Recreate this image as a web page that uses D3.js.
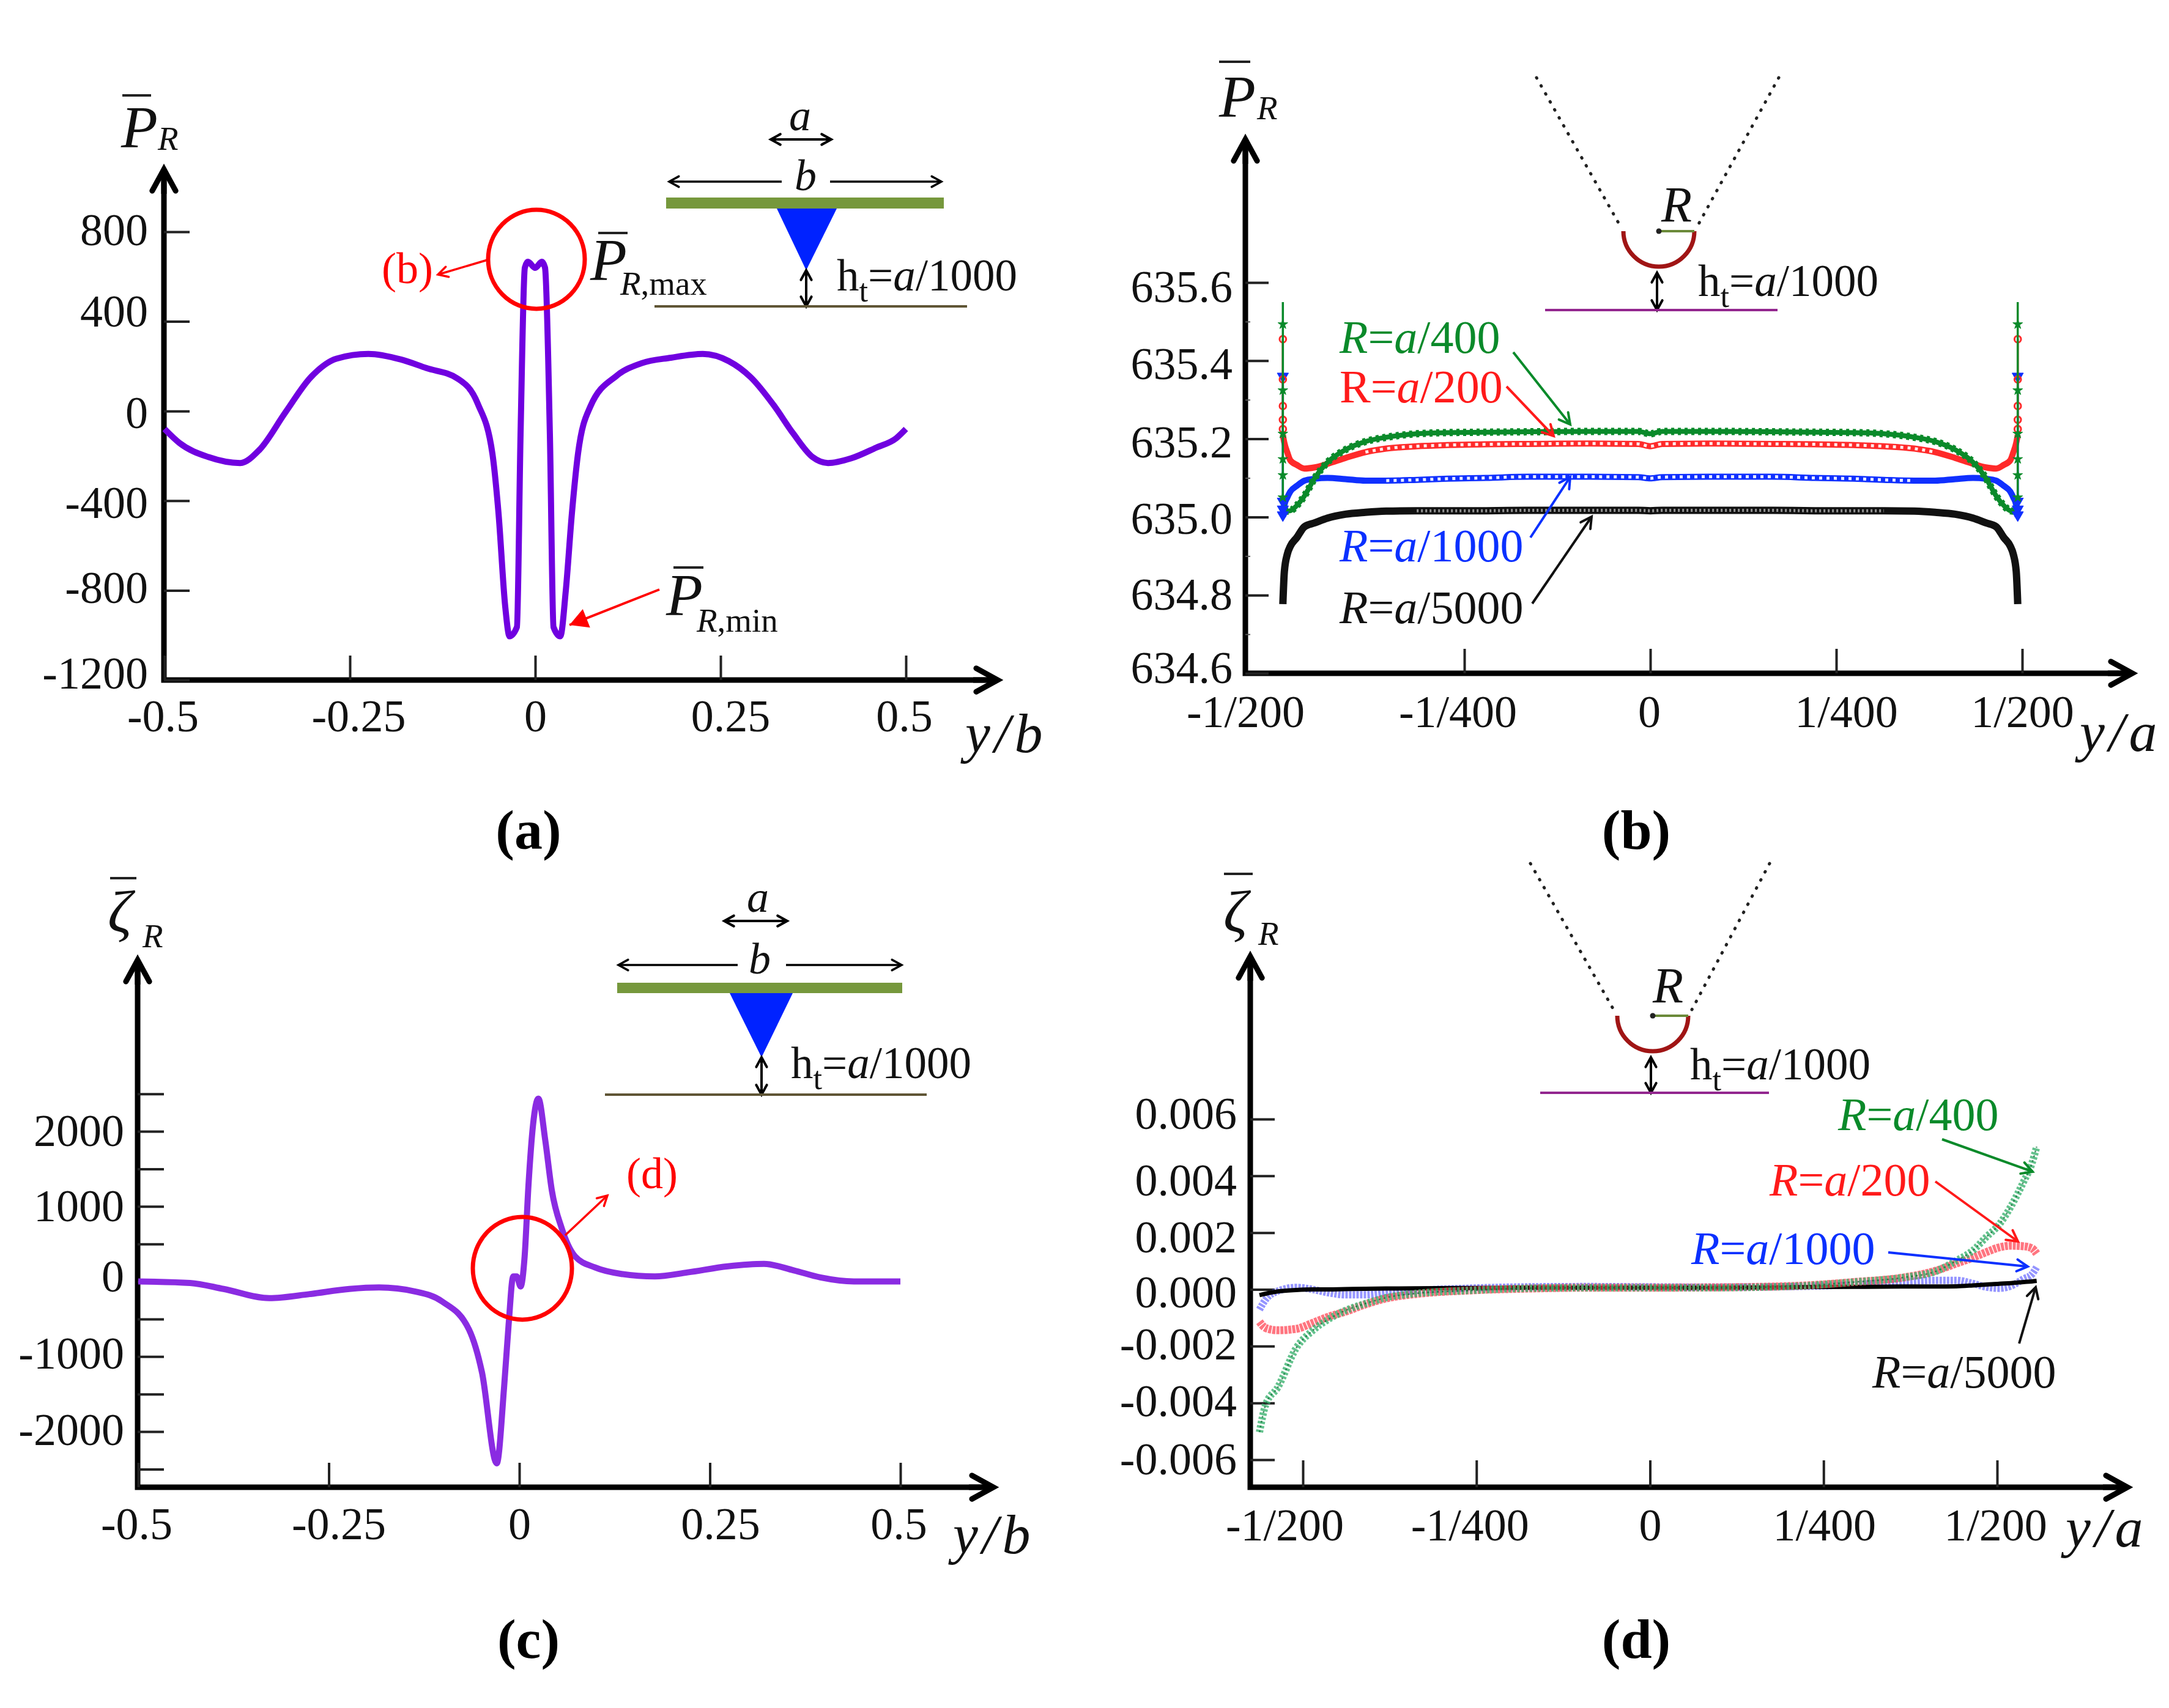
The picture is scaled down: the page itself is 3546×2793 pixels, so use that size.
<!DOCTYPE html>
<html>
<head>
<meta charset="utf-8">
<script src="https://cdn.jsdelivr.net/npm/d3@7"></script>
<style>
  html, body { margin: 0; background: #fff; }
  svg text { font-family: "Liberation Serif", serif; }
</style>
</head>
<body>
<svg id="chart" width="3546" height="2793"></svg>
<script>
// (a) pressure across the wall, whole span
const yOverBA = [-0.5, -0.48, -0.441, -0.398, -0.372, -0.337, -0.303, -0.268, -0.225, -0.181, -0.147, -0.1047, -0.0775, -0.0577, -0.0495, -0.0404, -0.0346, -0.0247, -0.0198, -0.014, -0.0099, 0, 0.009, 0.0132, 0.0198, 0.0247, 0.0338, 0.0412, 0.0495, 0.0577, 0.0742, 0.11, 0.143, 0.183, 0.226, 0.261, 0.291, 0.322, 0.348, 0.374, 0.395, 0.426, 0.46, 0.487, 0.5];
const pressureA = [-80, -142, -205, -232, -173, -6, 150, 234, 255, 230, 192, 145, 33, -191, -456, -874, -1005, -964, -107, 640, 666, 639, 666, 640, -107, -964, -1005, -803, -456, -191, 19, 158, 213, 238, 255, 223, 150, 25, -100, -205, -232, -211, -163, -121, -80];

// (c) vorticity, whole span
const yOverBC = [-0.5, -0.432, -0.388, -0.328, -0.275, -0.223, -0.184, -0.136, -0.101, -0.066, -0.049, -0.0296, -0.02, -0.014, -0.008, -0.0035, 0.0017, 0.007, 0.012, 0.018, 0.025, 0.034, 0.0427, 0.0557, 0.073, 0.099, 0.134, 0.178, 0.221, 0.2735, 0.321, 0.36, 0.395, 0.439, 0.5];
const vorticityC = [0, -20, -100, -222, -168, -100, -80, -135, -269, -640, -1211, -2423, -1413, -572, 67, 67, -67, 336, 1279, 2086, 2436, 1884, 1211, 707, 336, 188, 100, 67, 121, 202, 235, 148, 54, 0, 0];

// (b) pressure near the tip, one array per radius
const yOverAB = [-0.00494, -0.00492, -0.00488, -0.00484, -0.00475, -0.00465, -0.00451, -0.00434, -0.0041, -0.00383, -0.00355, -0.00314, -0.00273, -0.00221, -0.00164, -0.00082, -0.00016, 0, 0.00016, 0.00082, 0.00164, 0.00221, 0.00273, 0.00314, 0.00355, 0.00383, 0.0041, 0.00434, 0.00451, 0.00465, 0.00475, 0.00484, 0.00488, 0.00492, 0.00494];
const pressureR400 = [635.03, 635.016, 635.015, 635.016, 635.03, 635.054, 635.1, 635.14, 635.172, 635.193, 635.204, 635.213, 635.216, 635.217, 635.218, 635.219, 635.219, 635.213, 635.219, 635.219, 635.218, 635.217, 635.216, 635.213, 635.204, 635.193, 635.172, 635.14, 635.1, 635.054, 635.03, 635.016, 635.015, 635.016, 635.03];
const pressureR200 = [635.21, 635.19, 635.165, 635.145, 635.133, 635.124, 635.127, 635.136, 635.151, 635.166, 635.175, 635.181, 635.184, 635.186, 635.187, 635.188, 635.187, 635.181, 635.187, 635.188, 635.187, 635.186, 635.184, 635.181, 635.175, 635.166, 635.151, 635.136, 635.127, 635.124, 635.133, 635.145, 635.165, 635.19, 635.21];
const pressureR1000 = [635.0, 635.03, 635.05, 635.065, 635.08, 635.093, 635.098, 635.1, 635.097, 635.093, 635.093, 635.095, 635.098, 635.1, 635.103, 635.103, 635.102, 635.099, 635.102, 635.103, 635.103, 635.1, 635.098, 635.095, 635.093, 635.093, 635.097, 635.1, 635.098, 635.093, 635.08, 635.065, 635.05, 635.03, 635.0];
const pressureR5000 = [634.777, 634.86, 634.905, 634.925, 634.948, 634.975, 634.985, 634.997, 635.007, 635.012, 635.015, 635.016, 635.016, 635.016, 635.017, 635.017, 635.017, 635.016, 635.017, 635.017, 635.017, 635.016, 635.016, 635.016, 635.015, 635.012, 635.007, 634.997, 634.985, 634.975, 634.948, 634.925, 634.905, 634.86, 634.777];

// (b) the isolated points up the spike at each end
const spikeX = [-0.00494, 0.00494];
const spikeR400 = [635.55, 635.493, 635.324, 635.213, 635.148, 635.107, 635.05];
const spikeR200 = [635.455, 635.352, 635.284, 635.249, 635.225];
const spikeR1000 = [635.36, 635.04, 635.02, 635.005];

// (d) vorticity near the tip
const yOverAD = [-0.005625, -0.005537, -0.005361, -0.005097, -0.004859, -0.00463, -0.004393, -0.004102, -0.003803, -0.003363, -0.002632, -0.001752, -0.000871, 0, 0.000889, 0.00206, 0.00294, 0.00368, 0.00412, 0.00441, 0.00465, 0.00485, 0.00503, 0.0052, 0.00538, 0.0055, 0.00557];
const vorticityR400 = [-0.00503, -0.00407, -0.00345, -0.00207, -0.00145, -0.00105, -0.00075, -0.0005, -0.00029, -0.00014, -0.00004, 0.00004, 0.00006, 0.00006, 0.00006, 0.00011, 0.00026, 0.00043, 0.00064, 0.00101, 0.00137, 0.00186, 0.00229, 0.00293, 0.00379, 0.00443, 0.00503];
const vorticityR200 = [-0.00114, -0.00136, -0.00144, -0.00139, -0.00118, -0.00096, -0.00079, -0.00053, -0.00032, -0.00016, -0.00004, 0.00003, 0.00006, 0.00006, 0.00007, 0.00012, 0.00026, 0.00043, 0.00066, 0.00091, 0.00112, 0.00132, 0.00148, 0.00154, 0.00152, 0.00145, 0.00126];
const vorticityR1000 = [-0.00071, -0.00036, -0.00006, 0.00007, 0, -0.00012, -0.00019, -0.00019, -0.00013, -0.00004, 0.00004, 0.00009, 0.0001, 0.00009, 0.00008, 0.0001, 0.00017, 0.00028, 0.00032, 0.00032, 0.00021, 0.00008, 0.00004, 0.00012, 0.00037, 0.00053, 0.00079];
const vorticityR5000 = [-0.0002, -0.00015, -0.00007, -0.00002, 0, 0, 0.00001, 0.00002, 0.00003, 0.00004, 0.00005, 0.00006, 0.00006, 0.00006, 0.00006, 0.00008, 0.00009, 0.0001, 0.0001, 0.00011, 0.00014, 0.00017, 0.0002, 0.00022, 0.00026, 0.00028, 0.0003];

// tick values and labels
const ticksXWide = [-0.5, -0.25, 0, 0.25, 0.5];
const labelsXWide = ["-0.5", "-0.25", "0", "0.25", "0.5"];
const ticksXTip = [-1 / 200, -1 / 400, 0, 1 / 400, 1 / 200];
const labelsXTip = ["-1/200", "-1/400", "0", "1/400", "1/200"];
const ticksYA = [800, 400, 0, -400, -800, -1200];
const ticksYB = [635.6, 635.4, 635.2, 635.0, 634.8, 634.6];
const minorYB = [635.5, 635.3, 635.1, 634.9, 634.7];
const ticksYC = [2500, 2000, 1500, 1000, 500, 0, -500, -1000, -1500, -2000, -2500];
const labelledYC = [2000, 1000, 0, -1000, -2000];
const ticksYD = [0.006, 0.004, 0.002, 0, -0.002, -0.004, -0.006];

const svg = d3.select("#chart");
const TICK_FONT = 74;
const line = (xs, ys, x, y, curve) => d3.line()
    .x((d) => x(xs[d]))
    .y((d) => y(ys[d]))
    .curve(curve || d3.curveMonotoneX)(d3.range(xs.length));

// text with italic / subscript runs: parts are [string, "i" | "s" | "si" | ""]
function rich(g, px, py, size, color, parts, anchor) {
    const t = g.append("text").attr("x", px).attr("y", py)
        .attr("font-size", size).attr("fill", color)
        .attr("text-anchor", anchor || "start");
    let shifted = 0;
    parts.forEach(([s, style]) => {
        const st = style || "";
        const sub = st.includes("s");
        const drop = sub ? size * 0.24 : 0;
        t.append("tspan").text(s)
            .attr("dy", drop - shifted)
            .attr("font-size", sub ? size * 0.72 : size)
            .attr("font-style", st.includes("i") ? "italic" : "normal");
        shifted = drop;
    });
    return t;
}

function arrow(g, x1, y1, x2, y2, o) {
    o = Object.assign({ color: "#000", width: 4, head: 20, filled: false, both: false }, o);
    const ang = Math.atan2(y2 - y1, x2 - x1);
    const headAt = (hx, hy, a) => {
        const p1 = [hx - o.head * Math.cos(a - 0.5), hy - o.head * Math.sin(a - 0.5)];
        const p2 = [hx - o.head * Math.cos(a + 0.5), hy - o.head * Math.sin(a + 0.5)];
        if (o.filled) {
            g.append("path").attr("d", `M${p1}L${hx},${hy}L${p2}Z`).attr("fill", o.color);
        } else {
            g.append("path").attr("d", `M${p1}L${hx},${hy}L${p2}`)
                .attr("fill", "none").attr("stroke", o.color)
                .attr("stroke-width", o.width).attr("stroke-linecap", "round");
        }
    };
    g.append("line").attr("x1", x1).attr("y1", y1).attr("x2", x2).attr("y2", y2)
        .attr("stroke", o.color).attr("stroke-width", o.width);
    headAt(x2, y2, ang);
    if (o.both) headAt(x1, y1, ang + Math.PI);
}

// the thick arrowed axes plus ticks from d3.axis
function axes(g, p) {
    g.append("path")
        .attr("d", `M${p.x0},${p.top}V${p.y0}H${p.right}`)
        .attr("fill", "none").attr("stroke", "#000").attr("stroke-width", 9);
    arrow(g, p.x0, p.top + 40, p.x0, p.top, { width: 9, head: 40 });
    arrow(g, p.right - 40, p.y0, p.right, p.y0, { width: 9, head: 40 });

    const xa = g.append("g").attr("transform", `translate(0,${p.y0})`)
        .call(d3.axisBottom(p.xs).tickValues(p.xTicks).tickSizeInner(-p.xLen).tickSizeOuter(0)
            .tickFormat((d, i) => p.xLabels[i]));
    xa.select(".domain").remove();
    xa.selectAll("line").attr("stroke", "#222").attr("stroke-width", 4)
        .attr("display", (d, i) => (p.hideFirstXTick && i === 0 ? "none" : null));
    xa.selectAll("text").attr("font-size", TICK_FONT).attr("fill", "#111")
        .attr("font-family", "Liberation Serif")
        .attr("dy", 0).attr("y", p.xDrop)
        .attr("x", (d, i) => p.xNudge[i]);

    const ya = g.append("g").attr("transform", `translate(${p.x0},0)`)
        .call(d3.axisLeft(p.ys).tickValues(p.yTicks).tickSizeInner(-p.yLen).tickSizeOuter(0)
            .tickPadding(p.yPad).tickFormat((d, i) => p.yFormat(d, i)));
    ya.select(".domain").remove();
    ya.selectAll("line").attr("stroke", "#222").attr("stroke-width", 4);
    ya.selectAll("text").attr("font-size", TICK_FONT).attr("fill", "#111")
        .attr("font-family", "Liberation Serif")
        .attr("y", (d, i) => p.yNudge[i]);

    if (p.yMinor) {
        const ym = g.append("g").attr("transform", `translate(${p.x0},0)`)
            .call(d3.axisLeft(p.ys).tickValues(p.yMinor).tickSizeInner(-p.yMinorLen).tickSizeOuter(0).tickFormat(""));
        ym.select(".domain").remove();
        ym.selectAll("line").attr("stroke", "#555").attr("stroke-width", 2);
    }
}

// symbol with an overbar: "P" or zeta with an R subscript
function barSymbol(g, s) {
    const t = rich(g, s.x, s.y, s.size, "#111", [[s.glyph, "i"]]);
    t.append("tspan").attr("x", s.subX).attr("y", s.subY).attr("dy", 0)
        .attr("font-size", s.size * 0.56).attr("font-style", "italic").text("R");
    if (s.tail) t.append("tspan").attr("font-size", s.size * 0.56).attr("font-style", "normal").text(s.tail);
    g.append("line").attr("x1", s.barX1).attr("x2", s.barX2).attr("y1", s.barY).attr("y2", s.barY)
        .attr("stroke", "#222").attr("stroke-width", 4);
}

function heightLabel(g, px, py) {
    rich(g, px, py, 73, "#111", [["h", ""], ["t", "s"], ["=", ""], ["a", "i"], ["/1000", ""]]);
}

function axisName(g, px, py, letters) {
    g.append("text").attr("x", px).attr("y", py).attr("font-size", 92)
        .attr("font-style", "italic").attr("letter-spacing", 7).attr("fill", "#111").text(letters);
}

function caption(g, px, py, letter) {
    g.append("text").attr("x", px).attr("y", py).attr("text-anchor", "middle")
        .attr("font-size", 92).attr("font-weight", "bold").attr("fill", "#000").text(`(${letter})`);
}

// plate + triangular tip inset of the wide panels
function plateInset(g, c) {
    rich(g, c.ax, c.ay, 72, "#111", [["a", "i"]], "middle");
    arrow(g, c.dblA[0], c.dblA[2], c.dblA[1], c.dblA[2], { width: 4, head: 18, both: true });
    arrow(g, c.bGap[0], c.bY, c.bSpan[0], c.bY, { width: 3.5, head: 18 });
    arrow(g, c.bGap[1], c.bY, c.bSpan[1], c.bY, { width: 3.5, head: 18 });
    rich(g, c.bx, c.bY + 14, 72, "#111", [["b", "i"]], "middle");
    g.append("rect").attr("x", c.bar[0]).attr("y", c.bar[2]).attr("width", c.bar[1] - c.bar[0])
        .attr("height", c.bar[3] - c.bar[2]).attr("fill", "#76983c");
    g.append("path").attr("d", `M${c.tri[0]},${c.bar[3]}H${c.tri[1]}L${c.tri[2]},${c.tri[3]}Z`).attr("fill", "#0022ff");
    arrow(g, c.tri[2], c.tri[3], c.tri[2], c.ground[2], { width: 4, head: 18, both: true });
    g.append("line").attr("x1", c.ground[0]).attr("x2", c.ground[1]).attr("y1", c.ground[2]).attr("y2", c.ground[2])
        .attr("stroke", "#5f5535").attr("stroke-width", 4);
    heightLabel(g, c.hx, c.hy);
}

// wedge with rounded tip inset of the tip panels
function tipInset(g, c) {
    [[c.dl, c.cx - 64], [c.dr, c.cx + 64]].forEach(([from, toX]) => {
        g.append("line").attr("x1", from).attr("y1", c.dotTop).attr("x2", toX).attr("y2", c.cy - 10)
            .attr("stroke", "#222").attr("stroke-width", 5).attr("stroke-linecap", "round").attr("stroke-dasharray", "1 14");
    });
    const arc = d3.arc()({ innerRadius: 58, outerRadius: 58, startAngle: Math.PI / 2, endAngle: 3 * Math.PI / 2 });
    g.append("path").attr("d", arc).attr("transform", `translate(${c.cx},${c.cy})`)
        .attr("fill", "none").attr("stroke", "#a01515").attr("stroke-width", 7);
    g.append("line").attr("x1", c.cx).attr("x2", c.cx + 58).attr("y1", c.cy).attr("y2", c.cy)
        .attr("stroke", "#6b8a3a").attr("stroke-width", 4);
    g.append("circle").attr("cx", c.cx).attr("cy", c.cy).attr("r", 4.5).attr("fill", "#222");
    rich(g, c.rx, c.ry, 82, "#111", [["R", "i"]], "middle");
    arrow(g, c.cx - 3, c.cy + 68, c.cx - 3, c.gy, { width: 4, head: 18, both: true });
    g.append("line").attr("x1", c.gx[0]).attr("x2", c.gx[1]).attr("y1", c.gy).attr("y2", c.gy)
        .attr("stroke", "#93278f").attr("stroke-width", 4);
    heightLabel(g, c.hx, c.hy);
}

function radiusLabel(g, px, py, color, denom, upright) {
    rich(g, px, py, 76, color, [["R", upright ? "" : "i"], ["=", ""], ["a", "i"], ["/" + denom, ""]]);
}

// ---------- (a)
{
    const g = svg.append("g");
    const xs = d3.scaleLinear().domain([-0.5, 0.5]).range([269, 1481]);
    const ys = d3.scaleLinear().domain([-1200, 800]).range([1112, 379]);
    axes(g, {
        xs, ys, x0: 268, y0: 1112, top: 277, right: 1631, xTicks: ticksXWide, xLabels: labelsXWide,
        xLen: 40, xDrop: 84, xNudge: [-3, 14, 0, 16, -3], yTicks: ticksYA, yLen: 42, yPad: 26,
        yFormat: (d) => d, yNudge: [-2, -16, 4, 4, -4, -10],
    });
    g.append("path").attr("d", line(yOverBA, pressureA, xs, ys))
        .attr("fill", "none").attr("stroke", "#7000e0").attr("stroke-width", 10).attr("stroke-linejoin", "round");
    g.append("ellipse").attr("cx", 877).attr("cy", 424).attr("rx", 79).attr("ry", 81)
        .attr("fill", "none").attr("stroke", "#ff0000").attr("stroke-width", 7);
    rich(g, 624, 463, 72, "#ff0000", [["(b)", ""]]);
    arrow(g, 797, 425, 716, 449, { color: "#ff0000", width: 3.5, head: 18 });
    barSymbol(g, { glyph: "P", x: 198, y: 241, size: 98, barX1: 200, barX2: 247, barY: 156, subX: 258, subY: 245 });
    barSymbol(g, { glyph: "P", x: 965, y: 458, size: 98, barX1: 978, barX2: 1026, barY: 381, subX: 1014, subY: 482, tail: ",max" });
    barSymbol(g, { glyph: "P", x: 1089, y: 1006, size: 98, barX1: 1101, barX2: 1150, barY: 928, subX: 1139, subY: 1033, tail: ",min" });
    arrow(g, 1078, 964, 931, 1022, { color: "#ff0000", width: 4, head: 34, filled: true });
    plateInset(g, {
        ax: 1308, ay: 213, dblA: [1260, 1359, 228], bx: 1317, bY: 297, bSpan: [1094, 1539], bGap: [1278, 1357],
        bar: [1089, 1543, 323, 341], tri: [1270, 1368, 1318, 442], ground: [1070, 1581, 501], hx: 1368, hy: 475,
    });
    axisName(g, 1578, 1230, "y/b");
    caption(g, 864, 1388, "a");
}

// ---------- (b)
{
    const g = svg.append("g");
    const xs = d3.scaleLinear().domain([-0.005, 0.005]).range([2090, 3306]);
    const ys = d3.scaleLinear().domain([634.6, 635.6]).range([1101, 462]);
    axes(g, {
        xs, ys, x0: 2036, y0: 1101, top: 228, right: 3486, xTicks: ticksXTip, xLabels: labelsXTip,
        xLen: 40, xDrop: 88, xNudge: [-54, -11, -2, 16, 0], hideFirstXTick: true, yTicks: ticksYB, yLen: 38, yPad: 21,
        yFormat: (d) => d.toFixed(1), yNudge: [8, 6, 6, 3, 0, -8], yMinor: minorYB, yMinorLen: 8,
    });
    const series = [
        { ys: pressureR5000, color: "#111", width: 12, hole: 0.0033, holeW: 5, dash: "3 4", holeOp: 0.55 },
        { ys: pressureR1000, color: "#1030ff", width: 10, hole: 0.0036, holeW: 5, dash: "5 7", holeOp: 0.9 },
        { ys: pressureR200, color: "#ff2a2a", width: 10, hole: 0.0041, holeW: 5, dash: "5 7", holeOp: 0.9 },
    ];
    series.forEach((s) => {
        g.append("path").attr("d", line(yOverAB, s.ys, xs, ys)).attr("fill", "none")
            .attr("stroke", s.color).attr("stroke-width", s.width);
        const keep = yOverAB.map((d, i) => i).filter((i) => Math.abs(yOverAB[i]) < s.hole);
        g.append("path").attr("d", line(keep.map((i) => yOverAB[i]), keep.map((i) => s.ys[i]), xs, ys))
            .attr("fill", "none").attr("stroke", "#fff").attr("stroke-opacity", s.holeOp)
            .attr("stroke-width", s.holeW).attr("stroke-dasharray", s.dash);
    });
    // stars of R=a/400 sit on a solid line
    g.append("path").attr("d", line(yOverAB, pressureR400, xs, ys)).attr("fill", "none")
        .attr("stroke", "#0a8a2a").attr("stroke-width", 8);
    g.append("path").attr("d", line(yOverAB, pressureR400, xs, ys)).attr("fill", "none")
        .attr("stroke", "#0a8a2a").attr("stroke-width", 12).attr("stroke-dasharray", "5 6");
    const spikes = [
        { vals: spikeR1000, color: "#1030ff", sym: d3.symbolTriangle, open: false, rot: 180, size: 150 },
        { vals: spikeR200, color: "#ff2a2a", sym: d3.symbolCircle, open: true, rot: 0, size: 90 },
        { vals: spikeR400, color: "#0a8a2a", sym: d3.symbolStar, open: false, rot: 0, size: 80 },
    ];
    spikes.forEach((s) => {
        spikeX.forEach((sx) => {
            g.append("line").attr("x1", xs(sx)).attr("x2", xs(sx))
                .attr("y1", ys(d3.max(s.vals))).attr("y2", ys(d3.min(s.vals)))
                .attr("stroke", s.color).attr("stroke-width", 3.5);
            // the top green value is the bare end of the line, no symbol
            const pts = s.color === "#0a8a2a" ? s.vals.slice(1) : s.vals;
            g.selectAll(null).data(pts).enter().append("path")
                .attr("d", d3.symbol().type(s.sym).size(s.size))
                .attr("transform", (d) => `translate(${xs(sx)},${ys(d)}) rotate(${s.rot})`)
                .attr("fill", s.open ? "none" : s.color)
                .attr("stroke", s.color).attr("stroke-width", s.open ? 3 : 1);
        });
    });
    radiusLabel(g, 2190, 577, "#0a8a2a", "400");
    radiusLabel(g, 2190, 658, "#ff1a1a", "200", true);
    radiusLabel(g, 2190, 918, "#0a30ff", "1000");
    radiusLabel(g, 2190, 1019, "#111", "5000");
    arrow(g, 2474, 576, 2567, 694, { color: "#0a8a2a", width: 4 });
    arrow(g, 2463, 632, 2540, 713, { color: "#ff1a1a", width: 4 });
    arrow(g, 2502, 879, 2567, 780, { color: "#0a30ff", width: 4 });
    arrow(g, 2505, 987, 2602, 845, { color: "#111", width: 4 });
    tipInset(g, { cx: 2712, cy: 378, dl: 2512, dr: 2908, dotTop: 127, rx: 2741, ry: 362, gx: [2526, 2906], gy: 507, hx: 2776, hy: 484 });
    barSymbol(g, { glyph: "P", x: 1993, y: 191, size: 98, barX1: 1993, barX2: 2044, barY: 101, subX: 2055, subY: 195 });
    axisName(g, 3400, 1228, "y/a");
    caption(g, 2675, 1388, "b");
}

// ---------- (c)
{
    const g = svg.append("g");
    const xs = d3.scaleLinear().domain([-0.5, 0.5]).range([226, 1472]);
    const ys = d3.scaleLinear().domain([-2000, 2000]).range([2341, 1850]);
    axes(g, {
        xs, ys, x0: 225, y0: 2432, top: 1570, right: 1624, xTicks: ticksXWide, xLabels: labelsXWide,
        xLen: 40, xDrop: 85, xNudge: [-3, 16, 0, 17, -3], yTicks: ticksYC, yLen: 43, yPad: 22,
        yFormat: (d) => (labelledYC.includes(d) ? d : ""), yNudge: [0, 0, 0, 0, 0, -8, 0, -4, 0, -2, 0],
    });
    g.append("path").attr("d", line(yOverBC, vorticityC, xs, ys))
        .attr("fill", "none").attr("stroke", "#8a2be2").attr("stroke-width", 10).attr("stroke-linejoin", "round");
    g.append("ellipse").attr("cx", 854).attr("cy", 2074).attr("rx", 81).attr("ry", 84)
        .attr("fill", "none").attr("stroke", "#ff0000").attr("stroke-width", 7);
    arrow(g, 924, 2020, 993, 1955, { color: "#ff0000", width: 3.5, head: 18 });
    rich(g, 1024, 1943, 72, "#ff0000", [["(d)", ""]]);
    plateInset(g, {
        ax: 1239, ay: 1491, dblA: [1184, 1287, 1506], bx: 1242, bY: 1578, bSpan: [1011, 1474], bGap: [1206, 1285],
        bar: [1009, 1475, 1607, 1624], tri: [1193, 1296, 1245, 1729], ground: [989, 1515, 1790], hx: 1293, hy: 1763,
    });
    barSymbol(g, { glyph: "ζ", x: 176, y: 1524, size: 98, barX1: 180, barX2: 223, barY: 1436, subX: 233, subY: 1549 });
    axisName(g, 1558, 2540, "y/b");
    caption(g, 864, 2711, "c");
}

// ---------- (d)
{
    const g = svg.append("g");
    const xs = d3.scaleLinear().domain([-0.005, 0.005]).range([2130, 3265]);
    const ys = d3.scaleLinear().domain([-0.006, 0.006]).range([2387, 1830]);
    axes(g, {
        xs, ys, x0: 2044, y0: 2432, top: 1564, right: 3478, xTicks: ticksXTip, xLabels: labelsXTip,
        xLen: 44, xDrop: 87, xNudge: [-30, -11, 0, 1, -3], yTicks: ticksYD, yLen: 40, yPad: 22,
        yFormat: (d) => d.toFixed(3), yNudge: [-8, 8, 8, 5, -3, -2, 0],
    });
    const dlines = [
        { ys: vorticityR1000, color: "#5a5aff", op: 0.65, w: 12, dash: "4 2" },
        { ys: vorticityR5000, color: "#000", op: 1, w: 7 },
        { ys: vorticityR200, color: "#ff3b4a", op: 0.7, w: 13, dash: "5 1.5" },
        { ys: vorticityR400, color: "#3cb371", op: 0.8, w: 12, dash: "4 3" },
        { ys: vorticityR400, color: "#0a6a30", op: 0.7, w: 2.5, dash: "3 5" },
    ];
    dlines.forEach((s) => {
        g.append("path").attr("d", line(yOverAD, s.ys, xs, ys)).attr("fill", "none")
            .attr("stroke", s.color).attr("stroke-opacity", s.op).attr("stroke-width", s.w)
            .attr("stroke-dasharray", s.dash || null);
    });
    radiusLabel(g, 3005, 1848, "#0a8a2a", "400");
    radiusLabel(g, 2893, 1955, "#ff1a1a", "200");
    radiusLabel(g, 2765, 2067, "#0a30ff", "1000");
    radiusLabel(g, 3061, 2269, "#111", "5000");
    arrow(g, 3175, 1863, 3323, 1916, { color: "#0a8a2a", width: 4 });
    arrow(g, 3164, 1932, 3299, 2030, { color: "#ff1a1a", width: 4 });
    arrow(g, 3087, 2048, 3315, 2071, { color: "#0a30ff", width: 4 });
    arrow(g, 3301, 2197, 3328, 2105, { color: "#111", width: 4 });
    tipInset(g, { cx: 2702, cy: 1661, dl: 2502, dr: 2893, dotTop: 1412, rx: 2727, ry: 1639, gx: [2518, 2892], gy: 1787, hx: 2763, hy: 1765 });
    barSymbol(g, { glyph: "ζ", x: 2000, y: 1524, size: 98, barX1: 2001, barX2: 2048, barY: 1429, subX: 2057, subY: 1545 });
    axisName(g, 3377, 2529, "y/a");
    caption(g, 2675, 2711, "d");
}
</script>
</body>
</html>
